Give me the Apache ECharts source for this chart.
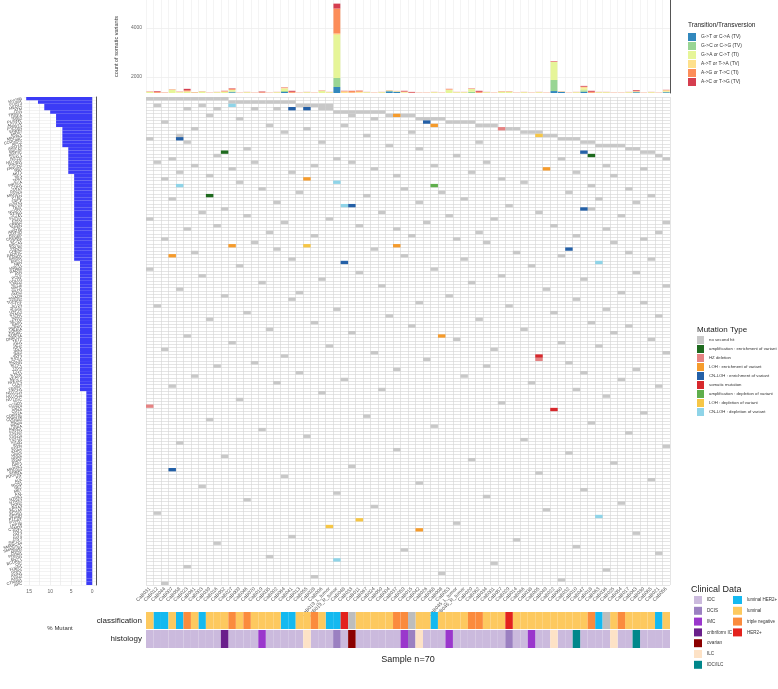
<!DOCTYPE html>
<html><head><meta charset="utf-8">
<script src="https://cdn.jsdelivr.net/npm/echarts@6/dist/echarts.min.js"></script>
<style>html,body{margin:0;padding:0;background:#fff}#c{width:778px;height:689px}</style>
</head><body><div id="c"></div><script>
const samples = ["CaB031","CaB012","CaB044","CaB007","CaB058","CaB023","CaB061","CaB003","CaB039","CaB016",
"CaB052","CaB027","CaB009","CaB046","CaB070","CaB019","CaB035","CaB002","CaB064","CaB041",
"CaB013","CaB055","CaB028","CaB006","CaB019_L_tumor","CaB019_R_tumor","CaB048","CaB033","CaB011","CaB067",
"CaB024","CaB050","CaB004","CaB037","CaB059","CaB015","CaB042","CaB026","CaB068","CaB008",
"CaB053","CaB045_L_tumor","CaB045_R_tumor","CaB020","CaB062","CaB034","CaB001","CaB057","CaB029","CaB014",
"CaB066","CaB038","CaB005","CaB049","CaB022","CaB060","CaB032","CaB010","CaB047","CaB018",
"CaB063","CaB036","CaB025","CaB054","CaB017","CaB043","CaB030","CaB065","CaB021","CaB056"];
const genes = ["MYO5B","FOXP1","MED12","ATM","TRIM33","NBEA","PLXNB2","ACOT11","PTPRZ1","ERBB3",
"MKI67","MAP3K1","CCDC88C","APC2","ARID1A","BRCA2","KMT2C","ASXL1","NOTCH2","PIK3R1",
"FANCD2","RB1","AKT1","NF1","TP53","PIK3CA","CDH1","GATA3","MAP2K4","PTEN",
"CBFB","RUNX1","TBX3","NCOR1","SF3B1","FOXA1","ESR1","ERBB2","SPEN","ARID1B",
"KMT2D","CREBBP","EP300","BRCA1","PALB2","CHEK2","RAD51C","BARD1","BRIP1","NBN",
"MRE11","RAD50","ATR","POLE","POLD1","MSH2","MSH6","MLH1","PMS2","SMAD4",
"TGFBR2","CTCF","ZFHX3","USP9X","STAG2","NSD1","SETD2","BAP1","PBRM1","KDM6A",
"KDM5C","DNMT3A","TET2","IDH1","IDH2","JAK1","JAK2","STAT3","SOCS1","MTOR",
"TSC1","TSC2","STK11","KEAP1","NFE2L2","CUL3","FBXW7","NOTCH1","NOTCH3","NOTCH4",
"MYC","CCND1","CDK4","CDK6","CDKN2A","CDKN1B","MDM2","MDM4","AURKA","FGFR1",
"FGFR2","FGFR4","IGF1R","INSR","EGFR","KRAS","HRAS","NRAS","BRAF","RAF1",
"MAP2K1","ERBB4","PDGFRA","KIT","ALK","ROS1","RET","MET","AXL","NTRK1",
"NTRK3","DDR2","EPHA3","EPHA5","EPHB1","PTPRD","PTPRT","LRP1B","CSMD3","FAT1",
"FAT3","FAT4","ZNF217","SMARCA4","SMARCB1","ARID2","PRDM1","BCOR","BCORL1","CIC",
"FUBP1","GNAS","AXIN1","AXIN2","CTNNB1","APC"];
const pctMutant = [15.7,12.9,11.4,11.4,10.0,8.6,8.6,8.6,8.6,7.1,
7.1,7.1,7.1,7.1,7.1,5.7,5.7,5.7,5.7,5.7,
5.7,5.7,5.7,4.3,4.3,4.3,4.3,4.3,4.3,4.3,
4.3,4.3,4.3,4.3,4.3,4.3,4.3,4.3,4.3,4.3,
4.3,4.3,4.3,4.3,4.3,4.3,4.3,4.3,4.3,2.9,
2.9,2.9,2.9,2.9,2.9,2.9,2.9,2.9,2.9,2.9,
2.9,2.9,2.9,2.9,2.9,2.9,2.9,2.9,2.9,2.9,
2.9,2.9,2.9,2.9,2.9,2.9,2.9,2.9,2.9,2.9,
2.9,2.9,2.9,2.9,2.9,2.9,2.9,2.9,1.4,1.4,
1.4,1.4,1.4,1.4,1.4,1.4,1.4,1.4,1.4,1.4,
1.4,1.4,1.4,1.4,1.4,1.4,1.4,1.4,1.4,1.4,
1.4,1.4,1.4,1.4,1.4,1.4,1.4,1.4,1.4,1.4,
1.4,1.4,1.4,1.4,1.4,1.4,1.4,1.4,1.4,1.4,
1.4,1.4,1.4,1.4,1.4,1.4,1.4,1.4,1.4,1.4,
1.4,1.4,1.4,1.4,1.4,1.4];
// stacked substitution counts per sample (axis is cut below ~1350)
const tvGT = [1000,1000,1000,1000,1000,1000,1000,1000,1000,1000,1000,1380,1000,1000,1000,1000,1000,1000,1390,1000,1000,1000,1000,1000,1000,1595,1000,1000,1000,1000,1000,1000,1420,1390,1000,1000,1000,1000,1000,1000,1000,1000,1000,1000,1000,1000,1000,1000,1000,1000,1000,1000,1000,1000,1430,1390,1000,1000,1400,1000,1000,1000,1000,1000,1000,1380,1000,1000,1000,1380];
const tvGC = [250,250,250,250,250,250,250,250,250,250,250,30,250,250,250,250,250,250,40,250,250,250,250,250,250,367,250,250,250,250,250,250,10,10,250,250,250,250,250,250,250,250,250,400,250,250,250,250,250,250,250,250,250,250,450,5,250,250,60,250,250,250,250,250,250,10,250,250,250,10];
const tiGA = [140,100,100,230,130,150,120,160,100,130,150,60,100,130,100,100,100,130,100,100,100,130,100,180,130,1755,100,100,110,130,100,130,20,20,120,100,100,100,130,100,220,130,130,110,100,130,100,150,150,100,130,100,130,100,740,10,100,130,80,100,130,130,100,100,130,20,100,130,100,30];
const tvAT = [10,10,5,10,10,20,5,5,5,5,10,10,5,5,5,10,5,5,20,10,5,5,5,10,5,60,60,20,40,5,5,5,5,5,30,5,5,5,5,5,20,5,5,10,10,5,5,10,10,5,5,5,5,5,0,5,5,5,50,10,5,5,5,5,5,5,5,5,5,40];
const tiAG = [10,30,10,10,10,40,10,5,5,5,20,40,5,5,5,20,5,5,20,40,5,5,5,10,5,1020,20,60,40,5,5,5,5,5,10,10,5,5,5,5,20,5,5,10,40,5,5,10,10,5,5,5,5,5,10,5,5,5,20,40,5,5,5,5,5,20,5,5,5,10];
const tvAC = [5,30,5,5,5,60,5,5,5,5,10,20,5,5,5,30,5,5,10,40,5,5,5,5,5,200,10,10,10,5,5,5,5,5,30,30,5,5,5,5,10,5,5,10,40,5,5,5,5,5,5,5,5,5,20,5,5,5,30,40,5,5,5,5,5,30,5,5,5,10];
const tvNames = ["G->T or C->A (TV)","G->C or C->G (TV)","G->A or C->T (TI)","A->T or T->A (TV)","A->G or T->C (TI)","A->C or T->G (TV)"];
const tvColors = ["#3288bd","#99d594","#e6f598","#fee08b","#fc8d59","#d53e4f"];
const countTicks = [2000, 4000];
const pctTicks = [0, 5, 10, 15];
const pctGrid = [0, 2.5, 5, 7.5, 10, 12.5, 15];

const mutTypes = ["no second hit","amplification : enrichment of variant","HZ deletion","LOH : enrichment of variant","CN-LOH : enrichment of variant","somatic mutation","amplification : depletion of variant","LOH : depletion of variant","CN-LOH : depletion of variant"];
const mutColors = ["#c8c8c8","#1e6a1e","#e58383","#f59b2c","#2460a7","#d7282c","#5fae4c","#f6c646","#8fd4e8"];
// "no second hit" samples, one list per gene (row)
const noHitByGene = [
[0,1,2,3,4,5,6,7,8,9,10],[11,12,13,14,15,16,17,18,19],[20,21,22,23,24,1,7],[23,24,5,9,14,17],[25,26,27,28,29,30,31],
[32,34,35,8,27],[36,37,38,39,12,30],[40,41,42,43,2],[44,45,46,16,26],[48,49,6,21],
[50,51,52,18,35],[53,54,4,29],[55,56,57,0],[58,59,5,23,44],[60,61,62,63,32],
[64,65,13,36],[66,67],[68,9,41],[69,55,25,3],[1,14,27,45],
[6,22,38,61],[11,30,66],[4,19,43,57],[8,33,62],[47,2],
[12,50],[59],[15,34,64],[20,39,56],[29,67],
[3,42,60],[17,36,65],[48],[59,10],[7,31,52],
[13,40,63],[0,24,46],[18,37,69],[9,28,54],[5,33,61],
[16,44,68],[22,35,57],[2,41,66],[14,45,62],[],
[17,30],[6,49,64],[34,55],[19,42,67],[],
[12,51],[0,38],[28,65],[7,47],[23,58],
[15,43],[31,69],[4,53],[20,63],[10,40],
[19,57],[36,66],[1,48],[25,61],[13,54],
[32,68],[8,44],[22,59],[35,64],[16,50],
[27,62],[5],[41,67],[11,55],[24,60],
[2,46],[30,69],[18],[37],[14,56],
[9,45],[33,65],[20,58],[6,42],[26,63],
[17,51],[3,68],[31,57],[23],[61],
[12],[47],[],[],[66],
[29],[8],[59],[38],[15],
[64],[21],[50],[4],[69],
[33],[56],[10],[43],[62],
[27],[],[52],[18],[67],
[36],[7],[58],[25],[45],
[13],[63],[30],[53],[1],
[],[],[41],[],[],
[65],[19],[49],[9],[57],
[34],[68],[16],[],[46],
[5],[61],[39],[22],[55],
[2]];
// other mutation types: [sampleIndex, geneIndex]
const cellsAmpEnr = [[10,16],[59,17],[8,29]];
const cellsHZ = [[47,9],[52,78],[0,92]];
const cellsLOHEnr = [[33,5],[38,8],[53,21],[21,24],[11,44],[33,44],[3,47],[39,71],[36,129]];
const cellsCNLOHEnr = [[19,3],[21,3],[37,7],[4,12],[58,16],[27,32],[58,33],[56,45],[26,49],[3,111]];
const cellsSomatic = [[52,77],[54,93]];
const cellsAmpDep = [[38,26]];
const cellsLOHDep = [[52,11],[21,44],[28,126],[24,128]];
const cellsCNLOHDep = [[11,2],[25,25],[4,26],[26,32],[60,49],[60,125],[25,138]];

const classification = ["luminal","luminal HER2+","luminal HER2+","luminal","luminal HER2+","triple negative","luminal","luminal HER2+","luminal","luminal",
"luminal","triple negative","luminal","triple negative","luminal","luminal","luminal","luminal","luminal HER2+","luminal HER2+",
"luminal","luminal","triple negative","luminal","luminal HER2+","luminal HER2+","HER2+","NA","luminal","luminal",
"luminal","luminal","luminal","triple negative","triple negative","NA","luminal","luminal","luminal HER2+","luminal",
"luminal","luminal","luminal","triple negative","triple negative","luminal","luminal","luminal","HER2+","luminal",
"luminal","luminal","luminal","luminal","luminal","luminal","luminal","luminal","luminal","triple negative",
"luminal HER2+","NA","luminal","triple negative","luminal","luminal","luminal","luminal","luminal HER2+","luminal"];
const histology = ["IDC","IDC","IDC","IDC","IDC","IDC","IDC","IDC","IDC","IDC",
"cribriform IC","IDC","IDC","IDC","IDC","IMC","IDC","IDC","IDC","IDC",
"IDC","ILC","IDC","IDC","IDC","DCIS","IDC","ovarian","IDC","IDC",
"IDC","IDC","IDC","IDC","IMC","DCIS","ILC","IDC","IDC","IDC",
"IMC","IDC","IDC","IDC","IDC","IDC","IDC","IDC","DCIS","IDC",
"IDC","IMC","IDC","IDC","ILC","IDC","IDC","IDC/ILC","IDC","IDC",
"IDC","IDC","ILC","IDC","IDC","IDC/ILC","IDC","IDC","IDC","IDC"];
const histNames = ["IDC","DCIS","IMC","cribriform IC","ovarian","ILC","IDC/ILC"];
const histColors = ["#cbbadd","#9b80c1","#9a37cc","#6a1f8b","#8b0000","#fde2c6","#00878b"];
const classNames = ["luminal HER2+","luminal","triple negative","HER2+","NA"];
const classColors = ["#14b9f0","#fdc95f","#fb8b3d","#e3221d","#bdbdbd"];

const cellsNoHit = [];
noHitByGene.forEach((list, g) => list.forEach(s => cellsNoHit.push([s, g])));
const mutCells = [cellsNoHit,cellsAmpEnr,cellsHZ,cellsLOHEnr,cellsCNLOHEnr,cellsSomatic,cellsAmpDep,cellsLOHDep,cellsCNLOHDep];

const F = "Liberation Sans, Arial, sans-serif";
const chart = echarts.init(document.getElementById('c'), null, {renderer:'canvas'});

function rectItem(params, api) {
  const p = api.coord([api.value(0), api.value(1)]);
  const s = api.size([1, 1]);
  return {type:'rect', shape:{x:p[0]-s[0]/2, y:p[1]-s[1]/2, width:s[0], height:s[1]}, style:{fill: api.visual('color')}};
}

const series = [];
[tvGT, tvGC, tiGA, tvAT, tiAG, tvAC].forEach((vals, i) => {
  series.push({name:tvNames[i], type:'bar', stack:'tv', xAxisIndex:0, yAxisIndex:0, barWidth:'92%', data:vals,
    itemStyle:{color:tvColors[i]}, clip:true, silent:true});
});
series.push({type:'bar', xAxisIndex:1, yAxisIndex:2, data:pctMutant, barWidth:'100%', itemStyle:{color:'#3b3bf6'}, silent:true});
mutTypes.forEach((n, i) => {
  series.push({name:n, type:'custom', xAxisIndex:2, yAxisIndex:4, renderItem:rectItem, data:mutCells[i], itemStyle:{color:mutColors[i]}, silent:true});
});
classNames.forEach((n, i) => {
  const d = []; classification.forEach((c, k) => { if (c === n) d.push([k, 0]); });
  series.push({name:n, type:'custom', xAxisIndex:3, yAxisIndex:5, renderItem:rectItem, data:d, itemStyle:{color:classColors[i]}, silent:true});
});
histNames.forEach((n, i) => {
  const d = []; histology.forEach((c, k) => { if (c === n) d.push([k, 0]); });
  series.push({name:n, type:'custom', xAxisIndex:4, yAxisIndex:6, renderItem:rectItem, data:d, itemStyle:{color:histColors[i]}, silent:true});
});

const legTxt = {fontSize:4.6, color:'#333', fontFamily:F};
const option = {
  animation:false,
  textStyle:{fontFamily:F},
  title:[
    {text:'Transition/Transversion', left:683, top:17, textStyle:{fontSize:6.5, fontWeight:'normal', color:'#222', fontFamily:F}},
    {text:'Mutation Type', left:692, top:321, textStyle:{fontSize:8, fontWeight:'normal', color:'#222', fontFamily:F}},
    {text:'Clinical Data', left:686, top:580, textStyle:{fontSize:9, fontWeight:'normal', color:'#222', fontFamily:F}}
  ],
  legend:[
    {data:tvNames, orient:'vertical', left:683, top:28, itemWidth:8, itemHeight:8, itemGap:1, icon:'rect', textStyle:{fontSize:4.8, color:'#333', fontFamily:F}, selectedMode:false},
    {data:mutTypes, orient:'vertical', left:692, top:331, itemWidth:7, itemHeight:8, itemGap:1, icon:'rect', textStyle:{fontSize:4.3, color:'#333', fontFamily:F}, selectedMode:false},
    {data:histNames, orient:'vertical', left:689, top:591, height:95, itemWidth:8, itemHeight:8, itemGap:2.8, icon:'rect', textStyle:legTxt, selectedMode:false},
    {data:classNames.slice(0,4), orient:'vertical', left:728, top:591, itemWidth:9, itemHeight:8, itemGap:2.8, icon:'rect', textStyle:{fontSize:4.5, color:'#333', fontFamily:F}, selectedMode:false}
  ],
  grid:[
    {left:146, top:0, width:524, height:93},
    {left:24, top:97, width:72, height:488},
    {left:146, top:97, width:524, height:488},
    {left:146, top:612, width:524, height:17},
    {left:146, top:630, width:524, height:18}
  ],
  xAxis:[
    {type:'category', gridIndex:0, data:samples, axisLabel:{show:false}, axisTick:{show:false}, axisLine:{show:false},
      splitLine:{show:true, interval:0, lineStyle:{color:'#ececec', width:0.6}}},
    {type:'value', gridIndex:1, inverse:true, min:-0.9, max:16.2,
      axisLabel:{customValues:pctTicks, fontSize:5, color:'#666', margin:4}, axisTick:{show:false, customValues:pctGrid},
      axisLine:{show:false}, splitLine:{show:true, lineStyle:{color:'#e6e6e6', width:0.6}},
      name:'% Mutant', nameLocation:'middle', nameGap:40, nameTextStyle:{fontSize:6, color:'#333'}},
    {type:'category', gridIndex:2, data:samples, axisTick:{show:false}, axisLine:{show:false},
      axisLabel:{rotate:45, fontSize:5, color:'#555', margin:3, interval:0},
      splitLine:{show:true, interval:0, lineStyle:{color:'#d4d4d4', width:0.6}}},
    {type:'category', gridIndex:3, data:samples, show:false},
    {type:'category', gridIndex:4, data:samples, axisLabel:{show:false}, axisTick:{show:false}, axisLine:{show:false},
      name:'Sample n=70', nameLocation:'middle', nameGap:7, nameTextStyle:{fontSize:9, color:'#222'}}
  ],
  yAxis:[
    {type:'value', gridIndex:0, min:1350, max:5145,
      axisLabel:{customValues:countTicks, fontSize:5, color:'#666', margin:4, formatter:v => String(v)}, axisTick:{show:false, customValues:countTicks},
      axisLine:{show:false}, splitLine:{show:true, lineStyle:{color:'#e8e8e8', width:0.6}},
      name:'count of somatic variants', nameLocation:'middle', nameGap:27, nameRotate:90, nameTextStyle:{fontSize:5.5, color:'#333'}},
    {type:'value', gridIndex:0, position:'right', axisLine:{show:true, lineStyle:{color:'#555', width:1}}, axisLabel:{show:false}, axisTick:{show:false}, splitLine:{show:false}},
    {type:'category', gridIndex:1, data:genes, inverse:true, axisTick:{show:false}, axisLine:{show:false},
      axisLabel:{fontSize:4, color:'#444', margin:2, interval:0, rotate:15}, splitLine:{show:true, interval:0, lineStyle:{color:'#e6e6e6', width:0.5}}},
    {type:'category', gridIndex:1, data:genes, inverse:true, position:'right', axisLine:{show:true, lineStyle:{color:'#555', width:1}}, axisLabel:{show:false}, axisTick:{show:false}},
    {type:'category', gridIndex:2, data:genes, inverse:true, axisLabel:{show:false}, axisTick:{show:false}, axisLine:{show:false},
      splitLine:{show:true, interval:0, lineStyle:{color:'#d4d4d4', width:0.6}}},
    {type:'category', gridIndex:3, data:['classification'], axisTick:{show:false}, axisLine:{show:false}, axisLabel:{fontSize:8, color:'#222', margin:4}},
    {type:'category', gridIndex:4, data:['histology'], axisTick:{show:false}, axisLine:{show:false}, axisLabel:{fontSize:8, color:'#222', margin:4}}
  ],
  series:series
};
chart.setOption(option);
</script></body></html>
